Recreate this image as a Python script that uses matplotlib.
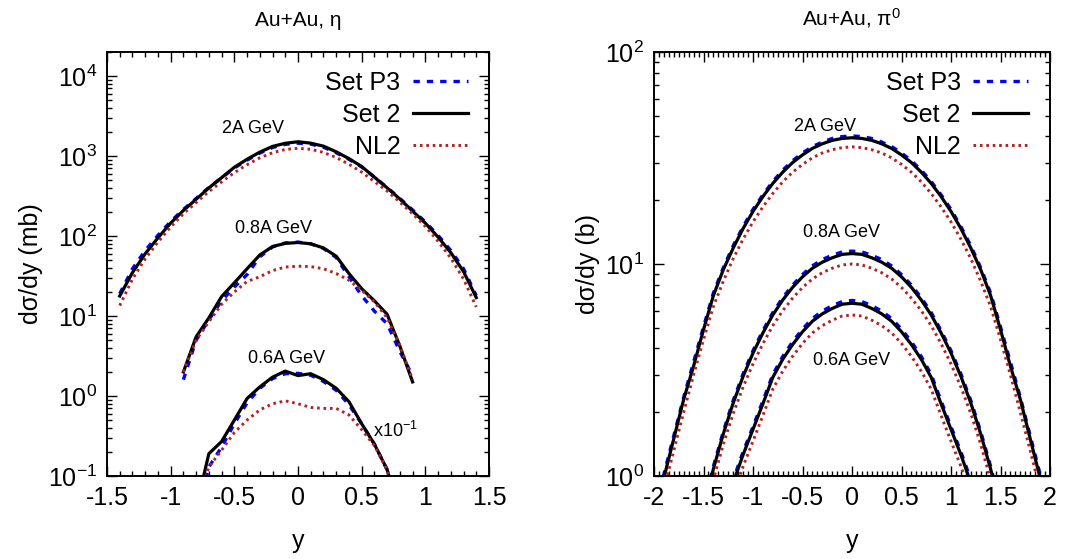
import numpy as np
import matplotlib
matplotlib.use("Agg")
import matplotlib.pyplot as plt
from matplotlib.ticker import MultipleLocator, LogLocator, FuncFormatter, NullFormatter

plt.rcParams['font.family'] = ['Liberation Sans', 'DejaVu Sans']
plt.rcParams['mathtext.default'] = 'regular'

# ---------------- data: eta (left panel) ----------------
eta_x_2A = [-1.4, -1.3, -1.2, -1.1, -1.0, -0.9, -0.8, -0.7, -0.6, -0.5, -0.4, -0.3, -0.2, -0.1, 0.0,
            0.1, 0.2, 0.3, 0.4, 0.5, 0.6, 0.7, 0.8, 0.9, 1.0, 1.1, 1.2, 1.3, 1.4]
eta_set2_2A = [17.8, 35, 60, 95, 145, 209, 288, 400, 537, 724, 912, 1120, 1320, 1445, 1510,
               1450, 1330, 1130, 930, 740, 545, 400, 290, 205, 145, 97, 62, 36, 17]
eta_p3_2A = [19, 39, 66, 102, 152, 215, 295, 405, 535, 710, 890, 1090, 1280, 1400, 1450,
             1410, 1290, 1100, 910, 730, 545, 405, 295, 212, 150, 102, 66, 39, 18]
eta_nl2_2A = [13.5, 29, 52, 84, 130, 190, 262, 360, 475, 620, 780, 950, 1100, 1210, 1250,
              1215, 1110, 960, 790, 630, 480, 365, 265, 190, 132, 86, 53, 29, 13]

eta_x_08A = [-0.9, -0.8, -0.7, -0.6, -0.5, -0.4, -0.3, -0.2, -0.1, 0.0,
             0.1, 0.2, 0.3, 0.4, 0.5, 0.6, 0.7, 0.8, 0.9]
eta_set2_08A = [2.0, 5.5, 9.5, 17.5, 26, 39, 58, 74, 81, 83, 80, 71, 56, 34, 22, 15.5, 10.5, 4.2, 1.5]
eta_p3_08A = [1.6, 5.0, 9.0, 15.5, 23, 33, 55, 73, 82, 84, 80, 70, 54, 31, 18, 11.5, 8.0, 3.6, 1.8]
eta_nl2_08A = [2.0, 5.0, 8.5, 14, 20, 27, 31, 37, 41, 42, 41.5, 39, 34, 28, 21, 15, 9.5, 4.3, 1.6]

eta_x_06A = [-0.8, -0.7, -0.6, -0.5, -0.4, -0.3, -0.2, -0.1, 0.0,
             0.1, 0.2, 0.3, 0.4, 0.5, 0.6, 0.7, 0.8]
eta_set2_06A = [0.04, 0.19, 0.27, 0.50, 0.93, 1.30, 1.72, 2.05, 1.80, 1.90, 1.60, 1.25, 0.85, 0.45, 0.25, 0.12, 0.035]
eta_p3_06A = [0.03, 0.13, 0.23, 0.45, 0.82, 1.25, 1.65, 1.90, 1.92, 1.82, 1.52, 1.18, 0.78, 0.45, 0.25, 0.12, 0.035]
eta_nl2_06A = [0.04, 0.13, 0.21, 0.35, 0.50, 0.67, 0.80, 0.87, 0.80, 0.72, 0.70, 0.70, 0.58, 0.38, 0.24, 0.12, 0.035]

# ---------------- data: pi0 (right panel) ----------------
pi_x_2A = [-2.0, -1.9, -1.8, -1.7, -1.6, -1.5, -1.4, -1.3, -1.2, -1.1, -1.0, -0.9, -0.8, -0.7, -0.6,
           -0.5, -0.4, -0.3, -0.2, -0.1, 0.0, 0.1, 0.2, 0.3, 0.4, 0.5, 0.6, 0.7, 0.8, 0.9, 1.0,
           1.1, 1.2, 1.3, 1.4, 1.5, 1.6, 1.7, 1.8, 1.9, 2.0]
pi_set2_2A = [0.62, 0.98, 1.5, 2.3, 3.3, 4.9, 7.1, 9.4, 11.9, 14.7, 17.7, 20.8, 24.0, 27.1, 30.1,
              32.7, 35.1, 36.9, 38.3, 39.1, 39.4, 39.1, 38.3, 36.9, 35.1, 32.7, 30.1, 27.1, 24.0, 20.8, 17.7,
              14.7, 11.9, 9.4, 7.1, 4.9, 3.3, 2.3, 1.5, 0.98, 0.62]
pi_p3_2A = [0.65, 1.02, 1.55, 2.35, 3.45, 5.05, 7.3, 9.6, 12.2, 15.0, 18.1, 21.2, 24.5, 27.7, 30.7,
            33.4, 35.8, 37.6, 39.1, 39.9, 40.2, 39.9, 39.1, 37.6, 35.8, 33.4, 30.7, 27.7, 24.5, 21.2, 18.1,
            15.0, 12.2, 9.6, 7.3, 5.05, 3.45, 2.35, 1.55, 1.02, 0.65]
pi_nl2_2A = [0.55, 0.86, 1.32, 2.0, 3.0, 4.4, 6.3, 8.3, 10.6, 13.1, 15.8, 18.6, 21.5, 24.4, 27.1,
             29.5, 31.7, 33.4, 34.6, 35.4, 35.7, 35.4, 34.6, 33.4, 31.7, 29.5, 27.1, 24.4, 21.5, 18.6, 15.8,
             13.1, 10.6, 8.3, 6.3, 4.4, 3.0, 2.0, 1.32, 0.86, 0.55]

pi_x_08A = [-1.5, -1.4, -1.3, -1.2, -1.1, -1.0, -0.9, -0.8, -0.7, -0.6, -0.5, -0.4, -0.3, -0.2, -0.1, 0.0,
            0.1, 0.2, 0.3, 0.4, 0.5, 0.6, 0.7, 0.8, 0.9, 1.0, 1.1, 1.2, 1.3, 1.4, 1.5]
pi_set2_08A = [0.71, 1.08, 1.58, 2.21, 2.95, 3.8, 4.73, 5.75, 6.76, 7.76, 8.7, 9.55, 10.2, 10.7, 11.1, 11.2,
               11.1, 10.7, 10.2, 9.55, 8.7, 7.76, 6.76, 5.75, 4.73, 3.8, 2.95, 2.21, 1.58, 1.08, 0.71]
pi_p3_08A = [0.73, 1.11, 1.62, 2.27, 3.03, 3.9, 4.85, 5.9, 6.93, 7.95, 8.92, 9.8, 10.5, 11.0, 11.4, 11.5,
             11.4, 11.0, 10.5, 9.8, 8.92, 7.95, 6.93, 5.9, 4.85, 3.9, 3.03, 2.27, 1.62, 1.11, 0.73]
pi_nl2_08A = [0.63, 0.96, 1.41, 1.97, 2.63, 3.38, 4.21, 5.12, 6.02, 6.9, 7.75, 8.5, 9.1, 9.55, 9.9, 10.0,
              9.9, 9.55, 9.1, 8.5, 7.75, 6.9, 6.02, 5.12, 4.21, 3.38, 2.63, 1.97, 1.41, 0.96, 0.63]

pi_x_06A = [-1.3, -1.2, -1.1, -1.0, -0.9, -0.8, -0.7, -0.6, -0.5, -0.4, -0.3, -0.2, -0.1, 0.0,
            0.1, 0.2, 0.3, 0.4, 0.5, 0.6, 0.7, 0.8, 0.9, 1.0, 1.1, 1.2, 1.3]
pi_set2_06A = [0.68, 0.93, 1.26, 1.66, 2.19, 2.92, 3.55, 4.17, 4.79, 5.37, 5.82, 6.17, 6.46, 6.53,
               6.46, 6.17, 5.82, 5.37, 4.79, 4.17, 3.55, 2.92, 2.19, 1.66, 1.26, 0.93, 0.68]
pi_p3_06A = [0.70, 0.96, 1.30, 1.71, 2.26, 3.01, 3.66, 4.30, 4.93, 5.53, 6.0, 6.36, 6.65, 6.73,
             6.65, 6.36, 6.0, 5.53, 4.93, 4.30, 3.66, 3.01, 2.26, 1.71, 1.30, 0.96, 0.70]
pi_nl2_06A = [0.60, 0.82, 1.11, 1.46, 1.93, 2.57, 3.12, 3.67, 4.22, 4.73, 5.12, 5.43, 5.68, 5.75,
              5.68, 5.43, 5.12, 4.73, 4.22, 3.67, 3.12, 2.57, 1.93, 1.46, 1.11, 0.82, 0.60]

series_labels = ["Set P3", "Set 2", "NL2"]
energy_labels = ["2A GeV", "0.8A GeV", "0.6A GeV"]

# ---------------- styles ----------------
BLUE = '#0000ff'
RED = '#b22222'
style_p3 = dict(color=BLUE, lw=2.4, linestyle=(0, (1.9, 2.1)))
style_s2 = dict(color='black', lw=2.3, linestyle='-')
style_nl2 = dict(color=RED, lw=2.1, linestyle=(0, (0.9, 1.3)))

fig = plt.figure(figsize=(10.86, 5.59), dpi=100)
ax1 = fig.add_axes([107/1086, 1-476/559, 382/1086, 424/559])
ax2 = fig.add_axes([654/1086, 1-476/559, 396/1086, 424/559])

def logfmt(v, pos):
    e = int(round(np.log10(v)))
    return r'$10^{%d}$' % e

def style_axes(ax, xmin, xmax, ymin, ymax, xminor):
    ax.set_yscale('log')
    ax.set_xlim(xmin, xmax)
    ax.set_ylim(ymin, ymax)
    ax.xaxis.set_major_locator(MultipleLocator(0.5))
    ax.xaxis.set_minor_locator(MultipleLocator(xminor))
    ax.yaxis.set_major_locator(LogLocator(base=10, numticks=20))
    ax.yaxis.set_minor_locator(LogLocator(base=10, subs=np.arange(2, 10), numticks=100))
    ax.yaxis.set_major_formatter(FuncFormatter(logfmt))
    ax.yaxis.set_minor_formatter(NullFormatter())
    ax.xaxis.set_major_formatter(FuncFormatter(lambda v, p: ('%g' % v)))
    ax.tick_params(which='both', direction='in', top=True, right=True, labelsize=18, width=1.0)
    ax.tick_params(which='major', length=7, pad=7)
    ax.tick_params(which='minor', length=3.5)
    for s in ax.spines.values():
        s.set_linewidth(1.4)

leg_kw = dict(loc='upper right', bbox_to_anchor=(0.945, 0.955), frameon=False,
              markerfirst=False, fontsize=18, handlelength=2.2, handletextpad=0.5,
              labelspacing=0.32, borderpad=0, borderaxespad=0)

# ---------------- left panel ----------------
for xs, p3, s2, nl2 in [(eta_x_2A, eta_p3_2A, eta_set2_2A, eta_nl2_2A),
                        (eta_x_08A, eta_p3_08A, eta_set2_08A, eta_nl2_08A),
                        (eta_x_06A, eta_p3_06A, eta_set2_06A, eta_nl2_06A)]:
    l1, = ax1.plot(xs, p3, **style_p3)
    l2, = ax1.plot(xs, s2, **style_s2)
    l3, = ax1.plot(xs, nl2, **style_nl2)
leg_handles = [l1, l2, l3]
style_axes(ax1, -1.5, 1.5, 0.1, 2.0e4, 0.1)
ax1.set_xlabel('y', fontsize=18, labelpad=14)
ax1.set_ylabel('dσ/dy (mb)', fontsize=18, labelpad=4)
ax1.set_title('Au+Au, η', fontsize=15, pad=19)
ax1.text(-0.35, 2240, energy_labels[0], fontsize=13, ha='center', va='center')
ax1.text(-0.19, 123, energy_labels[1], fontsize=13, ha='center', va='center')
ax1.text(-0.09, 2.95, energy_labels[2], fontsize=13, ha='center', va='center')
ax1.text(0.59, 0.37, r'x10$^{-1}$', fontsize=13, ha='left', va='center')
ax1.legend(leg_handles, series_labels, **leg_kw)

# ---------------- right panel ----------------
for xs, p3, s2, nl2 in [(pi_x_2A, pi_p3_2A, pi_set2_2A, pi_nl2_2A),
                        (pi_x_08A, pi_p3_08A, pi_set2_08A, pi_nl2_08A),
                        (pi_x_06A, pi_p3_06A, pi_set2_06A, pi_nl2_06A)]:
    r1, = ax2.plot(xs, p3, **style_p3)
    r2, = ax2.plot(xs, s2, **style_s2)
    r3, = ax2.plot(xs, nl2, **style_nl2)
style_axes(ax2, -2, 2, 1, 100, 0.05)
ax2.set_xlabel('y', fontsize=18, labelpad=14)
ax2.set_ylabel('dσ/dy (b)', fontsize=18, labelpad=4)
ax2.set_title(r'Au+Au, π$^{0}$', fontsize=15, pad=19)
ax2.text(-0.27, 44.5, energy_labels[0], fontsize=13, ha='center', va='center')
ax2.text(-0.11, 14.1, energy_labels[1], fontsize=13, ha='center', va='center')
ax2.text(0.0, 3.5, energy_labels[2], fontsize=13, ha='center', va='center')
ax2.legend([r1, r2, r3], series_labels, **leg_kw)

fig.savefig('out.png', dpi=100)
